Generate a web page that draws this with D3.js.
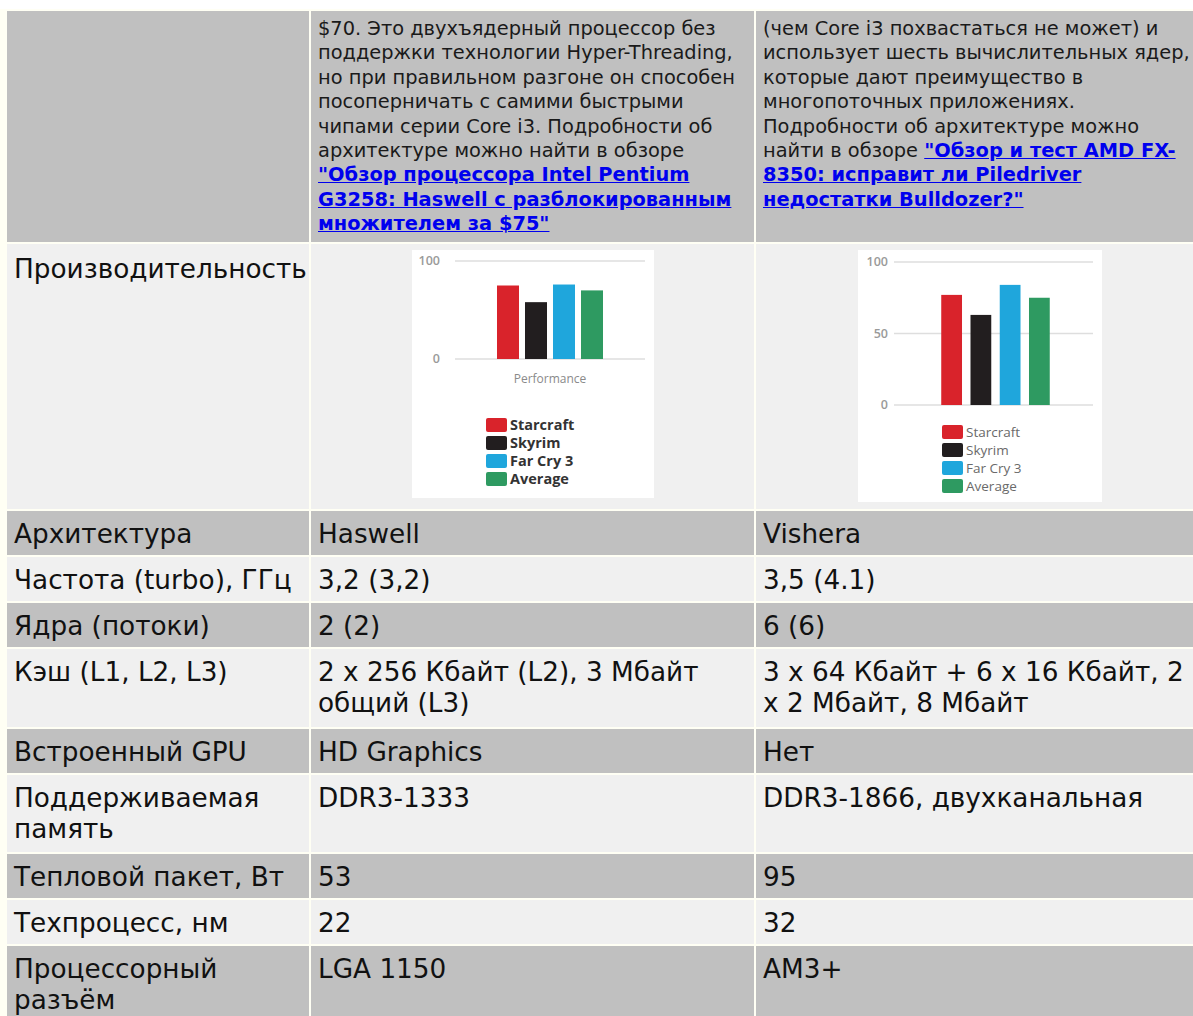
<!DOCTYPE html>
<html lang="ru">
<head>
<meta charset="UTF-8">
<title>Pentium G3258 vs FX-6300</title>
<script src="https://d3js.org/d3.v7.min.js"></script>
<style>
  html, body { margin: 0; padding: 0; overflow: hidden; background: #fff; }
  body { width: 1193px; height: 1016px; }
  .wrap { position: absolute; top: 9px; left: 0; width: 1220px; height: 1100px; background: #fffff4; }
  table.spec {
    margin-left: 5px;
    width: 1201px;
    border-collapse: separate;
    border-spacing: 2px;
    table-layout: fixed;
    font-family: Verdana, "DejaVu Sans", sans-serif;
    color: #111;
  }
  table.spec td {
    vertical-align: top;
    padding: 8px 7px 0 7px;
    font-size: 26.3px;
    line-height: 31px;
    white-space: nowrap;
    overflow: hidden;
  }
  tr.dark td { background: #c0c0c0; }
  tr.light td { background: #f0f0f0; }
  tr.head td { font-size: 19.4px; line-height: 24.4px; padding-top: 6px; color: #1a1a1a; }
  a { color: #0000ee; font-weight: bold; text-decoration: underline; }
  td.chart { text-align: center; padding: 6px 0 0 0 !important; }
  svg { display: inline-block; background: #fff; }
  svg text { font-family: "Open Sans", "DejaVu Sans", sans-serif; }
</style>
</head>
<body>
<div class="wrap"></div>
<script>
// header paragraphs, one entry per rendered line; link parts flagged
var introPentium = [
  [{t: "$70. Это двухъядерный процессор без"}],
  [{t: "поддержки технологии Hyper-Threading,"}],
  [{t: "но при правильном разгоне он способен"}],
  [{t: "посоперничать с самими быстрыми"}],
  [{t: "чипами серии Core i3. Подробности об"}],
  [{t: "архитектуре можно найти в обзоре"}],
  [{t: "\"Обзор процессора Intel Pentium", link: true}],
  [{t: "G3258: Haswell с разблокированным", link: true}],
  [{t: "множителем за $75\"", link: true}]
];
var introFx = [
  [{t: "(чем Core i3 похвастаться не может) и"}],
  [{t: "использует шесть вычислительных ядер,"}],
  [{t: "которые дают преимущество в"}],
  [{t: "многопоточных приложениях."}],
  [{t: "Подробности об архитектуре можно"}],
  [{t: "найти в обзоре "}, {t: "\"Обзор и тест AMD FX-", link: true}],
  [{t: "8350: исправит ли Piledriver", link: true}],
  [{t: "недостатки Bulldozer?\"", link: true}]
];

// performance charts
var games = ["Starcraft", "Skyrim", "Far Cry 3", "Average"];
var gameColors = ["#d9232b", "#221e1f", "#1fa6dc", "#2e9a61"];
var perfPentium = [75, 58, 76, 70];
var perfFx = [77, 63, 84, 75];
var ticksPentium = [0, 100];
var ticksFx = [0, 50, 100];

// spec rows
var specLabels = ["Архитектура", "Частота (turbo), ГГц", "Ядра (потоки)", "Кэш (L1, L2, L3)",
  "Встроенный GPU", "Поддерживаемая\nпамять", "Тепловой пакет, Вт", "Техпроцесс, нм", "Процессорный\nразъём"];
var specPentium = ["Haswell", "3,2 (3,2)", "2 (2)", "2 x 256 Кбайт (L2), 3 Мбайт\nобщий (L3)",
  "HD Graphics", "DDR3-1333", "53", "22", "LGA 1150"];
var specFx = ["Vishera", "3,5 (4.1)", "6 (6)", "3 x 64 Кбайт + 6 x 16 Кбайт, 2\nx 2 Мбайт, 8 Мбайт",
  "Нет", "DDR3-1866, двухканальная", "95", "32", "AM3+"];

var table = d3.select(".wrap").append("table").attr("class", "spec");
var cols = table.append("colgroup");
[302, 443, 448].forEach(function(w) { cols.append("col").style("width", w + "px"); });

// header row
var head = table.append("tr").attr("class", "head dark").style("height", "231px");
head.append("td");
[introPentium, introFx].forEach(function(par) {
  var td = head.append("td");
  td.selectAll("div").data(par).enter().append("div")
    .each(function(line) {
      var div = d3.select(this);
      line.forEach(function(seg) {
        if (seg.link) div.append("a").attr("href", "#").text(seg.t);
        else div.append("span").text(seg.t);
      });
    });
});

// performance row
var perf = table.append("tr").attr("class", "light").style("height", "263px");
perf.append("td").style("padding-top", "10px").text("Производительность");

function drawChart(td, values, ticks, opt) {
  var svg = td.append("svg").attr("width", opt.w).attr("height", opt.h);
  var y = d3.scaleLinear().domain([0, 100]).range(opt.yRange);
  var x = d3.scaleBand().domain(games).range(opt.xRange)
    .paddingInner(opt.padIn).paddingOuter(opt.padOut);

  svg.append("g").selectAll("line").data(ticks).enter().append("line")
    .attr("x1", opt.gridX[0]).attr("x2", opt.gridX[1])
    .attr("y1", function(d) { return y(d); })
    .attr("y2", function(d) { return y(d); })
    .attr("stroke", "#dedede").attr("stroke-width", 1.5);

  svg.append("g").selectAll("text").data(ticks).enter().append("text")
    .attr("x", opt.tickX).attr("y", function(d) { return y(d) + 4; })
    .attr("text-anchor", "end")
    .attr("font-size", 12.5).attr("font-weight", 600).attr("fill", "#9a9a9a")
    .text(function(d) { return d; });

  svg.append("g").selectAll("rect").data(values).enter().append("rect")
    .attr("x", function(d, i) { return x(games[i]); })
    .attr("width", x.bandwidth())
    .attr("y", function(d) { return y(d); })
    .attr("height", function(d) { return y(0) - y(d); })
    .attr("fill", function(d, i) { return gameColors[i]; });

  if (opt.caption) {
    svg.append("text").attr("x", (opt.xRange[0] + opt.xRange[1]) / 2).attr("y", opt.captionY)
      .attr("text-anchor", "middle").attr("font-size", 12).attr("fill", "#8a8a8a")
      .text(opt.caption);
  }

  var leg = svg.append("g").selectAll("g").data(games).enter().append("g")
    .attr("transform", function(d, i) { return "translate(" + opt.legX + "," + (opt.legY + i * opt.legStep) + ")"; });
  leg.append("rect").attr("x", 0).attr("y", -7).attr("width", 21).attr("height", 14)
    .attr("rx", 2).attr("fill", function(d, i) { return gameColors[i]; });
  leg.append("text").attr("x", 24).attr("y", 5)
    .attr("font-size", opt.legSize).attr("font-weight", opt.legBold ? "bold" : "normal")
    .attr("fill", opt.legBold ? "#333" : "#6a6a6a")
    .text(function(d) { return d; });
}

drawChart(perf.append("td").attr("class", "chart"), perfPentium, ticksPentium, {
  w: 242, h: 248, yRange: [109, 11], xRange: [82, 194], padIn: 0.214, padOut: 0.107,
  gridX: [43, 233], tickX: 28, caption: "Performance", captionY: 133,
  legX: 74, legY: 175, legStep: 18, legBold: true, legSize: 14.5
});
drawChart(perf.append("td").attr("class", "chart"), perfFx, ticksFx, {
  w: 244, h: 252, yRange: [155, 12], xRange: [79, 196], padIn: 0.29, padOut: 0.145,
  gridX: [36, 235], tickX: 30, caption: null,
  legX: 84, legY: 182, legStep: 18, legBold: false, legSize: 13.5
});

// spec rows, alternating shades
specLabels.forEach(function(label, i) {
  var lines = Math.max(label.split("\n").length, specPentium[i].split("\n").length, specFx[i].split("\n").length);
  var tr = table.append("tr").attr("class", i % 2 === 0 ? "dark" : "light")
    .style("height", (lines > 1 ? 77.5 : 44) + "px");
  [label, specPentium[i], specFx[i]].forEach(function(v) {
    var td = tr.append("td");
    td.selectAll("div").data(v.split("\n")).enter().append("div").text(function(d) { return d; });
  });
});
</script>
</body>
</html>
